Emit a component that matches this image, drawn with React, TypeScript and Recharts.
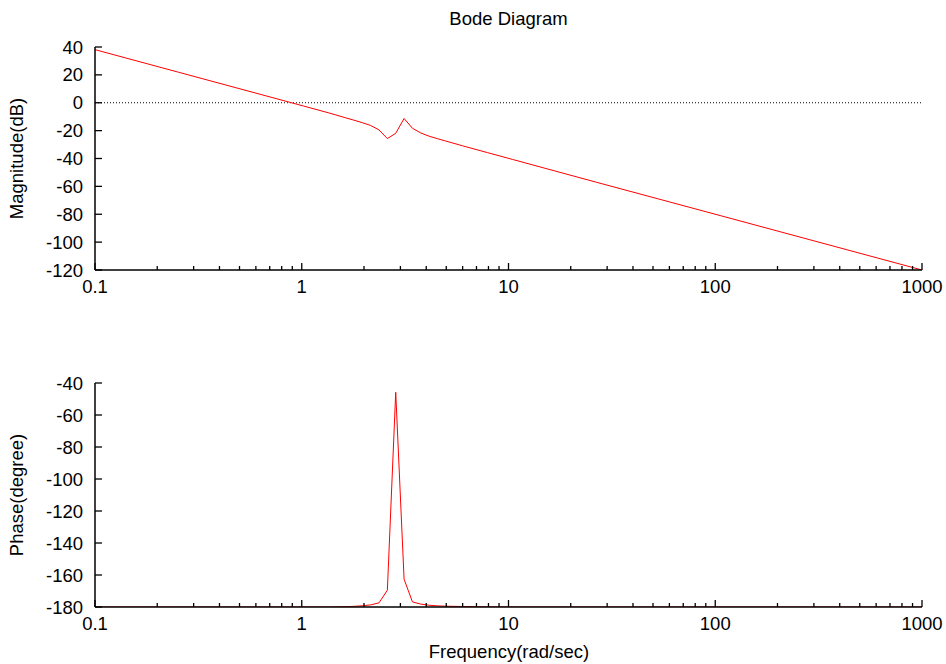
import { LineChart, Line, XAxis, YAxis, ReferenceLine } from 'recharts'

// sample frequencies (rad/sec)
const freqs = [
  0.1, 0.2535, 0.6428, 1.0235, 1.353, 1.6298, 1.7886, 1.963, 2.1544, 2.3645, 2.595, 2.848,
  3.1257, 3.4305, 3.7649, 4.132, 4.5349, 4.977, 5.9948, 7.9248, 10.476, 26.561, 107.23, 1000,
]
const magnitudeDb = [
  38.1, 21.9, 5.7, -2.4, -7.3, -10.8, -12.5, -14.3, -16.3, -19.5, -25.7, -21.9,
  -11.3, -18.3, -21.7, -24.0, -25.8, -27.5, -30.9, -35.8, -40.7, -57.0, -81.2, -120,
]
const phaseDeg = [
  -180, -180, -180, -180, -180, -179.8, -179.6, -179.2, -178.7, -177.4, -169.5, -45.8,
  -162.6, -176.8, -178.2, -178.9, -179.3, -179.5, -179.7, -179.9, -180, -180, -180, -180,
]

const majorFreqTicks = [0.1, 1, 10, 100, 1000]
const minorFreqTicks = [
  0.2, 0.3, 0.4, 0.5, 0.6, 0.7, 0.8, 0.9,
  2, 3, 4, 5, 6, 7, 8, 9,
  20, 30, 40, 50, 60, 70, 80, 90,
  200, 300, 400, 500, 600, 700, 800, 900,
]
const magTicks = [-120, -100, -80, -60, -40, -20, 0, 20, 40]
const phaseTicks = [-180, -160, -140, -120, -100, -80, -60, -40]

const data = freqs.map((f, i) => ({ f, mag: magnitudeDb[i], phase: phaseDeg[i] }))
const allFreqTicks = [...majorFreqTicks, ...minorFreqTicks].sort((a, b) => a - b)

const FONT = '"Liberation Sans", Arial, Helvetica, sans-serif'
const FS = 18.5

function FreqTick(props: any) {
  const { x, y, payload } = props
  const major = majorFreqTicks.includes(payload.value)
  return (
    <g>
      <line x1={x} y1={y} x2={x} y2={y - (major ? 7 : 4)} stroke="#000" strokeWidth={1.3} />
      {major && (
        <text x={x} y={y + 23} textAnchor="middle" fontSize={FS} fontFamily={FONT} fill="#000">
          {payload.value}
        </text>
      )}
    </g>
  )
}

function ValueTick(props: any) {
  const { x, y, payload } = props
  return (
    <g>
      <line x1={x} y1={y} x2={x + 7} y2={y} stroke="#000" strokeWidth={1.3} />
      <text x={x - 12} y={y + 6.5} textAnchor="end" fontSize={FS} fontFamily={FONT} fill="#000">
        {payload.value}
      </text>
    </g>
  )
}

type PanelProps = {
  dataKey: string
  ticks: number[]
  domain: [number, number]
  margin: { top: number; right: number; bottom: number; left: number }
  zeroLine?: boolean
}

function Panel({ dataKey, ticks, domain, margin, zeroLine }: PanelProps) {
  return (
    <LineChart width={946} height={300} data={data} margin={margin}>
      <XAxis
        dataKey="f"
        type="number"
        scale="log"
        domain={[0.1, 1000]}
        ticks={allFreqTicks}
        interval={0}
        tickSize={0}
        tickMargin={0}
        height={1}
        allowDataOverflow
        tickLine={false}
        tick={<FreqTick />}
        axisLine={{ stroke: '#000', strokeWidth: 1.5 }}
      />
      <YAxis
        type="number"
        domain={domain}
        ticks={ticks}
        interval={0}
        tickSize={0}
        tickMargin={0}
        width={1}
        allowDataOverflow
        tickLine={false}
        tick={<ValueTick />}
        axisLine={{ stroke: '#000', strokeWidth: 1.5 }}
      />
      {zeroLine && <ReferenceLine y={0} stroke="#000" strokeWidth={1} strokeDasharray="1 2" />}
      <Line
        type="linear"
        dataKey={dataKey}
        stroke="#ff0000"
        strokeWidth={1}
        dot={false}
        isAnimationActive={false}
      />
    </LineChart>
  )
}

export default function App() {
  return (
    <div style={{ position: 'absolute', left: 0, top: 0, width: 946, height: 664, background: '#fff' }}>
      <div style={{ position: 'absolute', left: 0, top: 0 }}>
        <Panel
          dataKey="mag"
          ticks={magTicks}
          domain={[-120, 40]}
          margin={{ top: 47, right: 24, bottom: 29, left: 94 }}
          zeroLine
        />
      </div>
      <div style={{ position: 'absolute', left: 0, top: 336 }}>
        <Panel
          dataKey="phase"
          ticks={phaseTicks}
          domain={[-180, -40]}
          margin={{ top: 47, right: 24, bottom: 28, left: 94 }}
        />
      </div>
      <svg
        width={946}
        height={664}
        style={{ position: 'absolute', left: 0, top: 0, pointerEvents: 'none' }}
        fontFamily={FONT}
        fontSize={FS}
      >
        <text x={508.5} y={25} textAnchor="middle" fill="#000">Bode Diagram</text>
        <text x={23} y={158.5} textAnchor="middle" fill="#000" transform="rotate(-90, 23, 158.5)">
          Magnitude(dB)
        </text>
        <text x={23} y={495} textAnchor="middle" fill="#000" transform="rotate(-90, 23, 495)">
          Phase(degree)
        </text>
        <text x={509} y={657.5} textAnchor="middle" fill="#000">Frequency(rad/sec)</text>
      </svg>
    </div>
  )
}
